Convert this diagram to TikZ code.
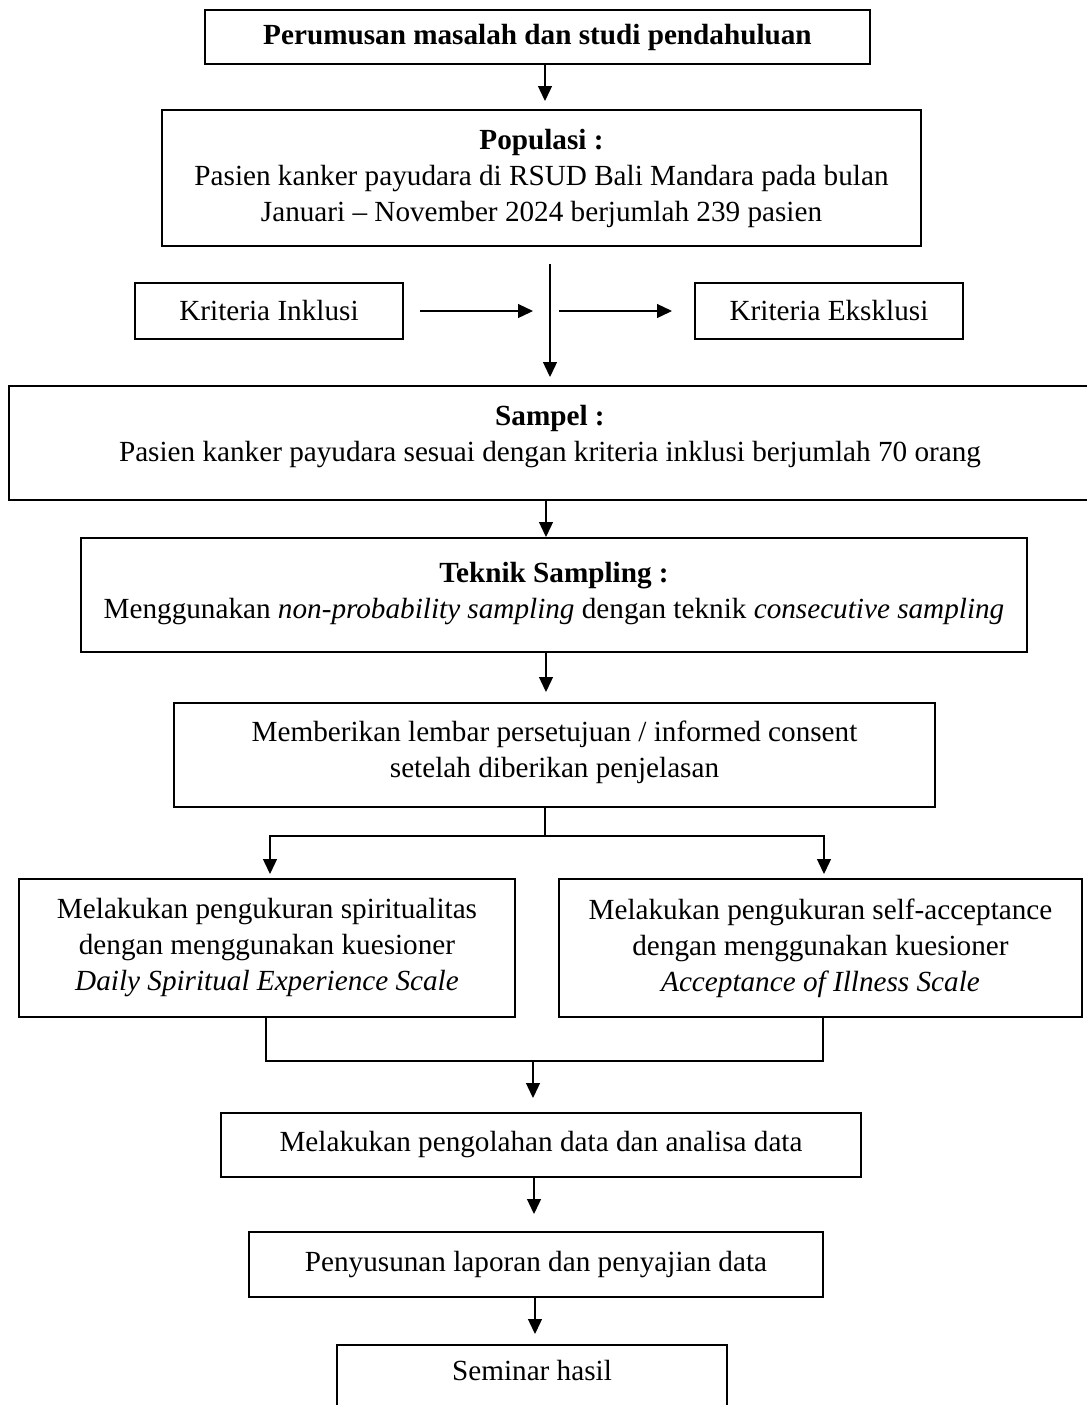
\documentclass[tikz,border=0pt]{standalone}
\usepackage{fontspec}
\setmainfont{Liberation Serif}
\usetikzlibrary{positioning,calc,arrows.meta}

\newcommand{\dn}[1]{\rule[-#1]{0pt}{#1}}

\tikzset{
    box/.style={draw, line width=1pt, align=center, inner sep=0pt,
        font=\fontsize{14.6}{18}\selectfont},
    arr/.style={-{Triangle[width=7pt,length=7.5pt]}, line width=0.65pt},
    link/.style={line width=0.65pt},
}

\begin{document}
\begin{tikzpicture}[x=0.5pt,y=-0.5pt]
    \useasboundingbox (0,0) rectangle (1087,1405);
    \clip (0,0) rectangle (1087,1405);

    % Boxes
    \node[box, minimum width=332.5pt, minimum height=27pt] (top) at (537.5,37) {\textbf{Perumusan masalah dan studi pendahuluan}};
    \node[box, minimum width=379.5pt, minimum height=68pt] (pop) at (541.5,178) {\textbf{Populasi :}\\Pasien kanker payudara di RSUD Bali Mandara pada bulan\\Januari -- November 2024 berjumlah 239 pasien};
    \node[box, minimum width=134pt, minimum height=28pt] (inkl) at (269,311) {Kriteria Inklusi};
    \node[box, minimum width=134pt, minimum height=28pt] (eksl) at (829,311) {Kriteria Eksklusi};
    \node[box, minimum width=541pt, minimum height=57pt] (smp) at (550,443) {\textbf{Sampel :}\\Pasien kanker payudara sesuai dengan kriteria inklusi berjumlah 70 orang\dn{10pt}};
    \node[box, minimum width=473pt, minimum height=57pt] (tek) at (554,595) {\textbf{Teknik Sampling :}\\Menggunakan \textit{non-probability sampling} dengan teknik \textit{consecutive sampling}\dn{4.7pt}};
    \node[box, minimum width=380.5pt, minimum height=52pt] (ic) at (554.5,755) {Memberikan lembar persetujuan / informed consent\\setelah diberikan penjelasan\dn{6.2pt}};
    \node[box, minimum width=248pt, minimum height=69pt] (spir) at (267,948) {Melakukan pengukuran spiritualitas\\dengan menggunakan kuesioner\\\textit{Daily Spiritual Experience Scale}};
    \node[box, minimum width=261.5pt, minimum height=69pt] (acc) at (820.5,948) {Melakukan pengukuran self-acceptance\\dengan menggunakan kuesioner\\\textit{Acceptance of Illness Scale}};
    \node[box, minimum width=320pt, minimum height=32pt] (olah) at (541,1145) {Melakukan pengolahan data dan analisa data};
    \node[box, minimum width=287pt, minimum height=32.5pt] (lap) at (536,1264.5) {Penyusunan laporan dan penyajian data};
    \node[box, minimum width=195pt, minimum height=32pt] (sem) at (532,1377) {Seminar hasil\dn{7pt}};

    % Connectors
    \draw[arr, shorten >=4pt] ($(top.south)+(7.5,0)$) -- ($(pop.north)+(3.5,0)$);
    \draw[arr, shorten <=8.5pt, shorten >=4pt] (pop.south -| smp.north) -- (smp.north);
    \coordinate (cross) at (smp.north |- inkl.east);
    \draw[arr, shorten <=8pt, shorten >=8.5pt] (inkl.east) -- (cross);
    \draw[arr, shorten <=4.5pt, shorten >=11pt] (cross) -- (eksl.west);
    \draw[arr] ($(smp.south)+(-4,0)$) -- ($(tek.north)+(-8,0)$);
    \draw[arr, shorten >=5pt] ($(tek.south)+(-8,0)$) -- ($(ic.north)+(-8.5,0)$);

    % Split into two measurements
    \coordinate (split) at ($(ic.south)+(-9.5,28)$);
    \draw[link] ($(ic.south)+(-9.5,0)$) -- (split);
    \draw[arr, shorten >=2pt] (split) -| ($(spir.north)+(3,0)$);
    \draw[arr, shorten >=2pt] (split) -| ($(acc.north)+(3.5,0)$);

    % Merge
    \coordinate (merge) at ($(olah.north)+(-8,-51)$);
    \draw[link] ($(spir.south)+(-1,0)$) |- (merge) -| ($(acc.south)+(2.5,0)$);
    \draw[arr, shorten >=7pt] (merge) -- (merge |- olah.north);
    \draw[arr, shorten >=8.5pt] ($(olah.south)+(-7,0)$) -- ($(lap.north)+(-2,0)$);
    \draw[arr, shorten >=5pt] ($(lap.south)+(-1,0)$) -- ($(sem.north)+(3,0)$);
\end{tikzpicture}
\end{document}
